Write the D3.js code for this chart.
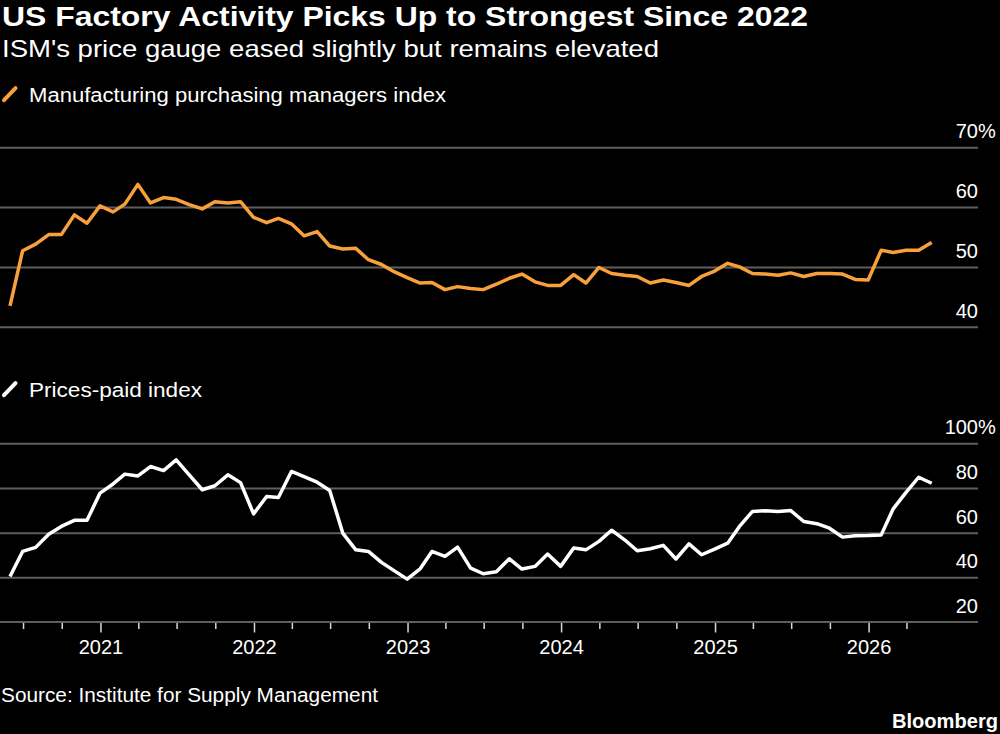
<!DOCTYPE html>
<html>
<head>
<meta charset="utf-8">
<script src="https://cdn.jsdelivr.net/npm/d3@7"></script>
<style>
  body { margin: 0; background: #000; }
  svg { display: block; font-family: "Liberation Sans", Arial, sans-serif; }
</style>
</head>
<body>
<div id="container"></div>
<script>
/* DATA: monthly readings, May 2020 .. May 2026 */
const firstMonth = new Date(2020, 4, 1);
const lastMonth = new Date(2026, 4, 1);

const pmi = [
  43.5, 52.7, 53.8, 55.4, 55.4, 58.7, 57.3, 60.2,                 // 2020 (May-Dec)
  59.2, 60.5, 63.8, 60.7, 61.6, 61.3, 60.4, 59.7, 60.9, 60.7, 60.9, 58.3, // 2021
  57.4, 58.1, 57.2, 55.2, 55.9, 53.5, 53.0, 53.1, 51.2, 50.4, 49.2, 48.2, // 2022
  47.3, 47.4, 46.2, 46.7, 46.4, 46.2, 47.1, 48.1, 48.8, 47.5, 46.9, 46.9, // 2023
  48.7, 47.3, 49.9, 48.9, 48.6, 48.4, 47.3, 47.8, 47.4, 46.9, 48.4, 49.3, // 2024
  50.6, 50.0, 48.9, 48.8, 48.6, 49.0, 48.4, 48.9, 48.9, 48.8, 47.9, 47.8, // 2025
  52.8, 52.4, 52.8, 52.8, 54.1                                     // 2026
];

const pricesPaid = [
  40.4, 51.6, 53.4, 59.3, 62.8, 65.5, 65.5, 77.7,
  81.8, 86.2, 85.4, 89.6, 87.8, 92.6, 85.9, 79.2, 81.0, 85.9, 82.4, 68.4,
  76.2, 75.7, 87.4, 85.1, 82.6, 78.9, 59.8, 52.3, 51.6, 46.7, 43.0, 39.2,
  43.8, 51.6, 49.4, 53.5, 44.1, 41.6, 42.5, 48.3, 43.7, 44.9, 50.4, 44.9,
  53.1, 52.3, 56.1, 61.1, 56.8, 51.9, 52.8, 54.3, 48.2, 55.0, 50.1, 52.6,
  55.3, 62.8, 69.5, 69.8, 69.5, 69.9, 65.0, 64.0, 62.0, 58.0, 58.6, 58.7,
  59.0, 70.5, 78.0, 84.8, 82.1
];

const pmiTicks = [40, 50, 60, 70];
const priceTicks = [40, 60, 80, 100];
const priceAxisValue = 20;

const title = "US Factory Activity Picks Up to Strongest Since 2022";
const subtitle = "ISM's price gauge eased slightly but remains elevated";
const legendPmi = "Manufacturing purchasing managers index";
const legendPrices = "Prices-paid index";
const source = "Source: Institute for Supply Management";

/* LAYOUT */
const width = 1000, height = 734;
const gridRight = 978;
const orange = "#f8a03c";
const gridColor = "#5e5e5e";

// each reading is plotted at the end of its month
const months = d3.timeMonth.range(firstMonth, d3.timeMonth.offset(lastMonth, 1))
  .map(d => d3.timeDay.offset(d3.timeMonth.offset(d, 1), -1));

const x = d3.scaleTime()
  .domain([months[0], months[months.length - 1]])
  .range([10, 931.7]);

const yTop = d3.scaleLinear().domain([40, 70]).range([326.7, 147.3]);
const yBot = d3.scaleLinear().domain([20, 100]).range([622, 443.3]);

const svg = d3.select("#container")
  .append("svg")
  .attr("width", width)
  .attr("height", height);

svg.append("rect").attr("width", width).attr("height", height).attr("fill", "#000");

// headings
svg.append("text")
  .attr("x", 2).attr("y", 26)
  .attr("font-size", 28).attr("font-weight", "bold").attr("fill", "#fff")
  .attr("textLength", 806).attr("lengthAdjust", "spacingAndGlyphs")
  .text(title);

svg.append("text")
  .attr("x", 2).attr("y", 57)
  .attr("font-size", 24).attr("fill", "#fff")
  .attr("textLength", 657).attr("lengthAdjust", "spacingAndGlyphs")
  .text(subtitle);

function legend(y, color, label, len) {
  svg.append("line")
    .attr("x1", 4).attr("y1", y - 1.5).attr("x2", 15.5).attr("y2", y - 13.5)
    .attr("stroke", color).attr("stroke-width", 4).attr("stroke-linecap", "round");
  svg.append("text")
    .attr("x", 29).attr("y", y)
    .attr("font-size", 20).attr("fill", "#fff")
    .attr("textLength", len).attr("lengthAdjust", "spacingAndGlyphs")
    .text(label);
}
legend(101.7, orange, legendPmi, 417);
legend(396.7, "#fff", legendPrices, 173);

// y grids + labels
function yGrid(scale, ticks, pct) {
  const g = svg.append("g")
    .attr("transform", `translate(${gridRight},0)`)
    .call(d3.axisLeft(scale).tickValues(ticks).tickSize(gridRight).tickFormat(d => d));
  g.select(".domain").remove();
  g.selectAll(".tick line").attr("stroke", gridColor).attr("stroke-width", 2);
  g.selectAll(".tick text")
    .attr("x", 0).attr("dy", -9.5)
    .attr("text-anchor", "end")
    .attr("font-size", 20).attr("font-family", "Liberation Sans, Arial, sans-serif")
    .attr("fill", "#fff");
  g.selectAll(".tick").filter(d => d === pct)
    .append("text")
    .attr("x", 0).attr("dy", -9.5)
    .attr("text-anchor", "start")
    .attr("font-size", 20).attr("font-family", "Liberation Sans, Arial, sans-serif")
    .attr("fill", "#fff")
    .text("%");
}
yGrid(yTop, pmiTicks, 70);
yGrid(yBot, priceTicks, 100);

// label for the bottom axis value (20)
svg.append("text")
  .attr("x", gridRight).attr("y", yBot(priceAxisValue) - 9.5)
  .attr("text-anchor", "end").attr("font-size", 20).attr("fill", "#fff")
  .text(priceAxisValue);

// x axis
const quarters = d3.timeMonth.every(3).range(months[0], months[months.length - 1]);
const xAxis = svg.append("g")
  .attr("transform", `translate(0,${yBot(priceAxisValue)})`)
  .call(d3.axisBottom(x).tickValues(quarters).tickSizeOuter(0)
    .tickFormat(d => d.getMonth() === 0 ? d3.timeFormat("%Y")(d) : ""));
xAxis.select(".domain").remove();
xAxis.selectAll(".tick line")
  .attr("stroke", "#d8d8d8").attr("stroke-width", 1.5)
  .attr("y2", d => d.getMonth() === 0 ? 10.5 : 7);
xAxis.selectAll(".tick text")
  .attr("y", 18).attr("dy", "0.71em")
  .attr("font-size", 20).attr("font-family", "Liberation Sans, Arial, sans-serif")
  .attr("fill", "#fff");
xAxis.append("line")
  .attr("x1", 0).attr("x2", gridRight)
  .attr("stroke", gridColor).attr("stroke-width", 2);

// lines
const pmiLine = d3.line().x((d, i) => x(months[i])).y(d => yTop(d));
const priceLine = d3.line().x((d, i) => x(months[i])).y(d => yBot(d));

svg.append("path")
  .datum(pmi)
  .attr("d", pmiLine)
  .attr("fill", "none").attr("stroke", orange)
  .attr("stroke-width", 3.5).attr("stroke-linejoin", "round");

svg.append("path")
  .datum(pricesPaid)
  .attr("d", priceLine)
  .attr("fill", "none").attr("stroke", "#fff")
  .attr("stroke-width", 3.5).attr("stroke-linejoin", "round");

// footer
svg.append("text")
  .attr("x", 1).attr("y", 702)
  .attr("font-size", 20).attr("fill", "#fff")
  .attr("textLength", 377).attr("lengthAdjust", "spacingAndGlyphs")
  .text(source);

svg.append("text")
  .attr("x", 998).attr("y", 727.5)
  .attr("text-anchor", "end")
  .attr("font-size", 20).attr("font-weight", "bold").attr("fill", "#fff")
  .attr("textLength", 106).attr("lengthAdjust", "spacingAndGlyphs")
  .text("Bloomberg");
</script>
</body>
</html>
